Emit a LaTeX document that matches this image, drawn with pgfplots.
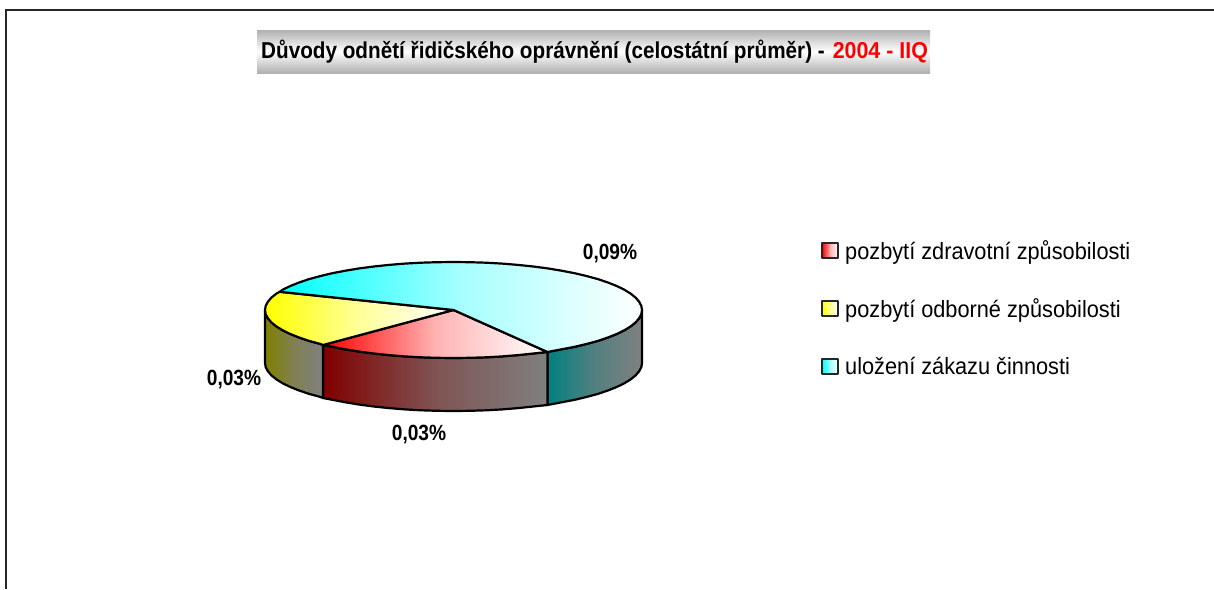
\documentclass[border=0pt]{standalone}
\usepackage{pgfplots}
\pgfplotsset{compat=1.18}
\usepackage{fontspec}
\setmainfont{Liberation Sans}
\definecolor{tealE}{RGB}{0,128,128}
\definecolor{greyE}{RGB}{128,128,128}
\definecolor{redE}{RGB}{128,0,0}
\definecolor{yelE}{RGB}{128,128,0}
\definecolor{band}{RGB}{176,176,176}
\newcommand{\lgd}[1]{\hspace*{4pt}\scalebox{.925}[1]{#1}}
\newcommand{\dlab}[1]{\scalebox{.87}[1]{#1}}
\pgfplotsset{
  pieedge/.style={draw=black,line width=2.2pt,line join=round},
}
\begin{document}
\begin{tikzpicture}[x=1pt,y=1pt]
\path[use as bounding box] (0,0) rectangle (1214,589);
\begin{axis}[
  at={(0,0)},anchor=south west,
  scale only axis,width=1214pt,height=589pt,
  xmin=0,xmax=1214,ymin=0,ymax=589,y dir=reverse,
  hide axis,clip=false,
  legend image code/.code={\draw[#1,line width=2pt,draw=black!85] (0pt,-7.5pt) rectangle (16pt,7.5pt);},
  legend style={at={(axis cs:821,238)},anchor=north west,draw=none,fill=none,
    inner xsep=0pt,inner ysep=0pt,row sep=34pt,
    font=\fontsize{23.5}{23.5}\selectfont,
    cells={anchor=west}},
]
% outer frame
\addplot[forget plot,draw=black!85,line width=1.8pt] coordinates {(6,589)(6,10)(1214,10)};

% side walls: cyan slice
\addplot[forget plot,pieedge,left color=tealE,right color=greyE,middle color=tealE!35!greyE] coordinates {
(642,310)(641.3,314.2)(639.1,318.3)(635.6,322.4)(630.6,326.4)(624.3,330.3)(616.7,334)(607.9,337.5)(597.9,340.9)(586.8,343.9)(574.7,346.8)(561.6,349.3)(547.5,352)
(547.5,405)(561.6,402.3)(574.7,399.8)(586.8,396.9)(597.9,393.9)(607.9,390.5)(616.7,387)(624.3,383.3)(630.6,379.4)(635.6,375.4)(639.1,371.3)(641.3,367.2)(642,363)} -- cycle;
% side walls: red slice
\addplot[forget plot,pieedge,left color=redE,right color=greyE,middle color=redE!35!greyE] coordinates {
(547.5,352)(533.2,353.5)(518,355.1)(502.3,356.4)(486.2,357.3)(469.9,357.8)(453.5,358)(437.1,357.8)(420.8,357.3)(404.7,356.4)(389,355.1)(373.8,353.5)(359.25,351.6)(345.4,349.3)(332.3,346.8)(323,345)
(323,398)(332.3,399.8)(345.4,402.3)(359.25,404.6)(373.8,406.5)(389,408.1)(404.7,409.4)(420.8,410.3)(437.1,410.8)(453.5,411)(469.9,410.8)(486.2,410.3)(502.3,409.4)(518,408.1)(533.2,406.5)(547.5,405)} -- cycle;
% side walls: yellow slice
\addplot[forget plot,pieedge,left color=yelE,right color=greyE,middle color=yelE!35!greyE] coordinates {
(323,345)(320.2,343.9)(309.1,340.9)(299.1,337.5)(290.3,334)(282.7,330.3)(276.4,326.4)(271.4,322.4)(267.9,318.3)(265.7,314.2)(265,310)
(265,363)(265.7,367.2)(267.9,371.3)(271.4,375.4)(276.4,379.4)(282.7,383.3)(290.3,387)(299.1,390.5)(309.1,393.9)(320.2,396.9)(323,398)} -- cycle;

% top faces, with legend
\addplot[pieedge,left color=red,right color=white,middle color=red!30!white] coordinates {
(453.5,310)(547.5,352)(533.2,353.5)(518,355.1)(502.3,356.4)(486.2,357.3)(469.9,357.8)(453.5,358)(437.1,357.8)(420.8,357.3)(404.7,356.4)(389,355.1)(373.8,353.5)(359.25,351.6)(345.4,349.3)(332.3,346.8)(323,345)} -- cycle;
\addlegendentry{\lgd{pozbytí zdravotní způsobilosti}}
\addplot[pieedge,left color=yellow,right color=white,middle color=yellow!40!white] coordinates {
(453.5,310)(323,345)(320.2,343.9)(309.1,340.9)(299.1,337.5)(290.3,334)(282.7,330.3)(276.4,326.4)(271.4,322.4)(267.9,318.3)(265.7,314.2)(265,310)(265.7,305.8)(267.9,301.7)(271.4,297.6)(276.4,293.6)(279.8,291.8)} -- cycle;
\addlegendentry{\lgd{pozbytí odborné způsobilosti}}
\addplot[pieedge,left color=cyan,right color=white,middle color=cyan!35!white] coordinates {
(453.5,310)(279.8,291.8)(282.7,289.7)(290.3,286)(299.1,282.5)(309.1,279.1)(320.2,276.1)(332.3,273.2)(345.4,270.7)(359.25,268.4)(373.8,266.5)(389,264.9)(404.7,263.6)(420.8,262.7)(437.1,262.2)(453.5,262)(469.9,262.2)(486.2,262.7)(502.3,263.6)(518,264.9)(533.2,266.5)(547.75,268.4)(561.6,270.7)(574.7,273.2)(586.8,276.1)(597.9,279.1)(607.9,282.5)(616.7,286)(624.3,289.7)(630.6,293.6)(635.6,297.6)(639.1,301.7)(641.3,305.8)(642,310)(641.3,314.2)(639.1,318.3)(635.6,322.4)(630.6,326.4)(624.3,330.3)(616.7,334)(607.9,337.5)(597.9,340.9)(586.8,343.9)(574.7,346.8)(561.6,349.3)(547.5,352)} -- cycle;
\addlegendentry{\lgd{uložení zákazu činnosti}}

% title band
\shade[top color=band,bottom color=white,draw=none] (axis cs:257,30) rectangle (axis cs:930,51.5);
\shade[top color=white,bottom color=band,draw=none] (axis cs:257,51.5) rectangle (axis cs:930,73);
\node[anchor=west,inner sep=0pt,font=\fontsize{23}{23}\selectfont\bfseries] at (axis cs:261,52) {\scalebox{.9}[1]{Důvody odnětí řidičského oprávnění (celostátní průměr) -}\hspace{8pt}\scalebox{.93}[1]{\textcolor{red}{2004 - IIQ}}};

% data labels
\node[font=\fontsize{22}{22}\selectfont\bfseries] at (axis cs:610,254) {\dlab{0,09\%}};
\node[font=\fontsize{22}{22}\selectfont\bfseries] at (axis cs:234,380) {\dlab{0,03\%}};
\node[font=\fontsize{22}{22}\selectfont\bfseries] at (axis cs:419,435) {\dlab{0,03\%}};
\end{axis}
\end{tikzpicture}
\end{document}
